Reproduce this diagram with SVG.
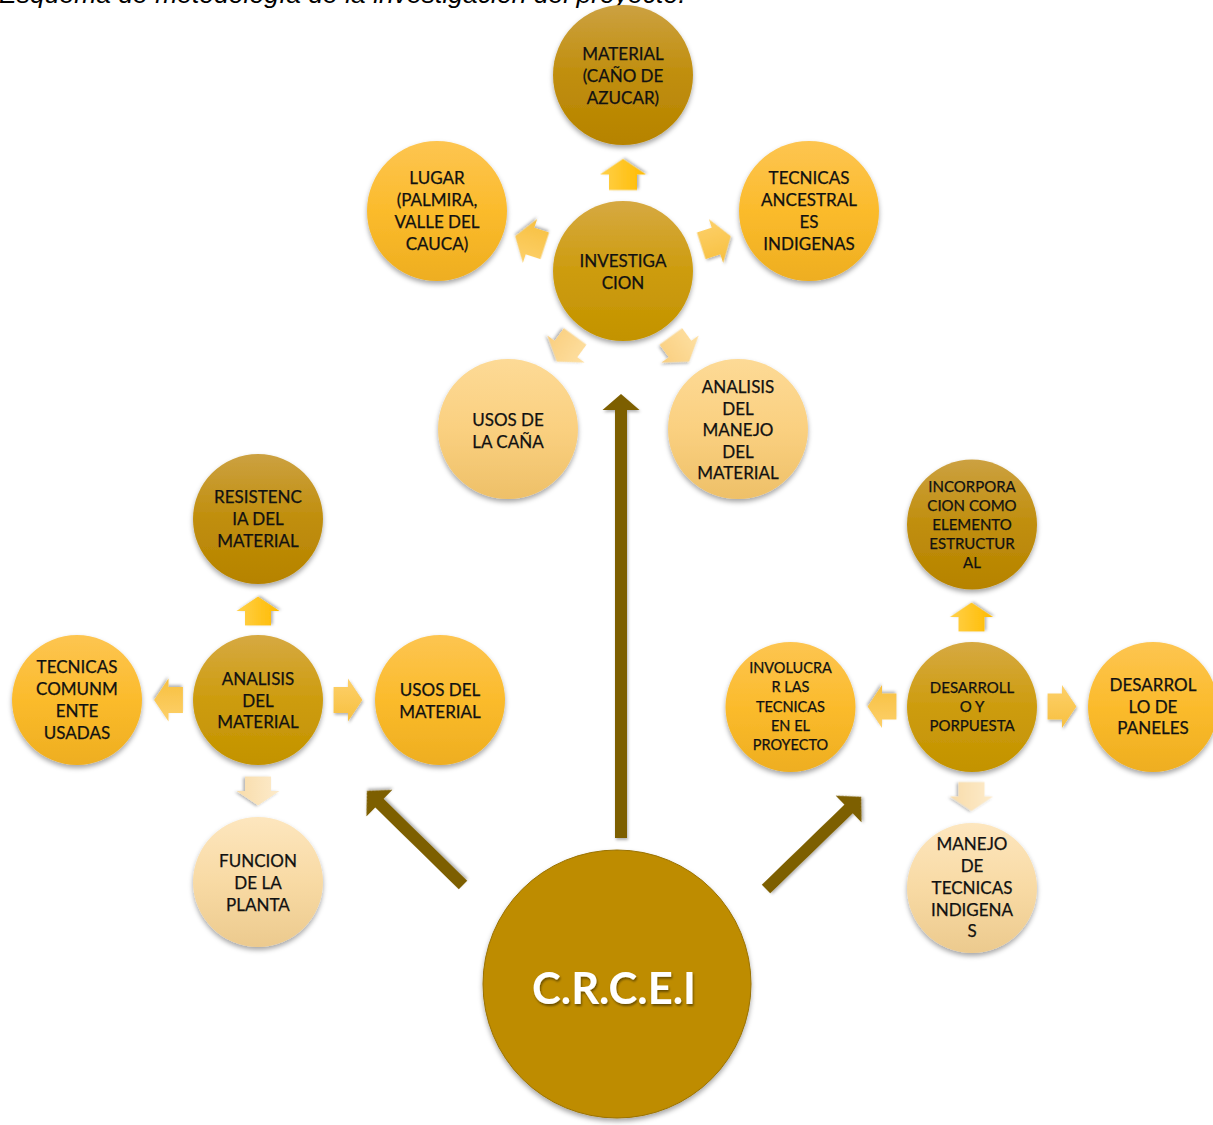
<svg xmlns="http://www.w3.org/2000/svg" xmlns:xlink="http://www.w3.org/1999/xlink" width="1213" height="1125" viewBox="0 0 1213 1125">
<style>
  .t{font-family:Lato,"Open Sans","Liberation Sans",sans-serif;font-size:17px;fill:#111;stroke:#111;stroke-width:0.25px;text-anchor:middle}
  .s15{font-size:15px}
  .s14{font-size:14.5px}
  .title{font-family:"Liberation Sans",Arial,sans-serif;font-style:italic;font-size:26.5px;fill:#000}
  .big{font-family:Lato,"Open Sans","Liberation Sans",sans-serif;font-weight:bold;font-size:43.5px;fill:#fff;text-anchor:middle}
  .dark{fill:url(#gDark)}
  .mid{fill:url(#gMid)}
  .yel{fill:url(#gYel)}
  .lt1{fill:url(#gLt1)}
  .lt2{fill:url(#gLt2)}
  .node{filter:url(#sh)}
  .bigarrow{fill:#7D5E00;filter:url(#sh2)}
</style>
<defs>
  <linearGradient id="gDark" x1="0" y1="0" x2="0" y2="1"><stop offset="0" stop-color="#CCA141"/><stop offset="0.5" stop-color="#C08E0C"/><stop offset="1" stop-color="#B68300"/></linearGradient>
  <linearGradient id="gMid" x1="0" y1="0" x2="0" y2="1"><stop offset="0" stop-color="#D6A942"/><stop offset="0.5" stop-color="#CD9C0E"/><stop offset="1" stop-color="#C39300"/></linearGradient>
  <linearGradient id="gYel" x1="0" y1="0" x2="0" y2="1"><stop offset="0" stop-color="#FDC551"/><stop offset="0.5" stop-color="#FBBB2C"/><stop offset="1" stop-color="#EEAE20"/></linearGradient>
  <linearGradient id="gLt1" x1="0" y1="0" x2="0" y2="1"><stop offset="0" stop-color="#FDDA96"/><stop offset="0.5" stop-color="#FAD080"/><stop offset="1" stop-color="#EEC068"/></linearGradient>
  <linearGradient id="gLt2" x1="0" y1="0" x2="0" y2="1"><stop offset="0" stop-color="#FDE6BE"/><stop offset="0.5" stop-color="#F8DAA4"/><stop offset="1" stop-color="#ECCA8E"/></linearGradient>
  <linearGradient id="aUp" x1="0" y1="0" x2="0" y2="1"><stop offset="0" stop-color="#FFD04A"/><stop offset="1" stop-color="#FFBB00"/></linearGradient>
  <linearGradient id="aSide" x1="0" y1="0" x2="0" y2="1"><stop offset="0" stop-color="#FDD06A"/><stop offset="1" stop-color="#F7C040"/></linearGradient>
  <linearGradient id="aLt1" x1="0" y1="0" x2="0" y2="1"><stop offset="0" stop-color="#FEE0A2"/><stop offset="1" stop-color="#F9CE7E"/></linearGradient>
  <linearGradient id="aLt2" x1="0" y1="0" x2="0" y2="1"><stop offset="0" stop-color="#FDEBCB"/><stop offset="1" stop-color="#F8DCAA"/></linearGradient>
  <filter id="sh" x="-20%" y="-20%" width="140%" height="150%"><feDropShadow dx="0" dy="3" stdDeviation="2.5" flood-color="#000" flood-opacity="0.35"/></filter>
  <filter id="sh2" x="-20%" y="-20%" width="140%" height="140%"><feDropShadow dx="1" dy="2" stdDeviation="1.5" flood-color="#000" flood-opacity="0.3"/></filter>
  <filter id="tsh" x="-10%" y="-20%" width="120%" height="150%"><feDropShadow dx="1" dy="2" stdDeviation="1.2" flood-color="#000" flood-opacity="0.45"/></filter>
  <path id="blk" d="M-15.5,-14 L0,-14 L0,-23 L15.5,0 L0,23 L0,14 L-15.5,14 Z"/>
</defs>

<text class="title" x="-1" y="3">Esquema de metodología de la investigación del proyecto.</text>

<g id="connectors">
  <polygon class="bigarrow" points="615,838 615,410 602.5,410 621,394 639.5,410 627,410 627,838"/>
  <path class="bigarrow" transform="translate(463,885) rotate(-135.6)" d="M0,-6 L117,-6 L117,-18.5 L134.5,0 L117,18.5 L117,6 L0,6 Z"/>
  <path class="bigarrow" transform="translate(766,889) rotate(-44.1)" d="M0,-6 L115,-6 L115,-18.5 L132.5,0 L115,18.5 L115,6 L0,6 Z"/>

  <use href="#blk" fill="url(#aUp)" filter="url(#sh2)" transform="translate(623,174.5) rotate(-90)"/>
  <use href="#blk" fill="url(#aSide)" filter="url(#sh2)" transform="translate(530,241) rotate(198)"/>
  <use href="#blk" fill="url(#aSide)" filter="url(#sh2)" transform="translate(716,241) rotate(-18)"/>
  <use href="#blk" fill="url(#aLt1)" filter="url(#sh2)" transform="translate(566,349) rotate(126)"/>
  <use href="#blk" fill="url(#aLt1)" filter="url(#sh2)" transform="translate(680,349) rotate(54)"/>

  <use href="#blk" fill="url(#aUp)" filter="url(#sh2)" transform="translate(258,611) rotate(-90) scale(0.93)"/>
  <use href="#blk" fill="url(#aSide)" filter="url(#sh2)" transform="translate(168.5,700) rotate(180) scale(0.93)"/>
  <use href="#blk" fill="url(#aSide)" filter="url(#sh2)" transform="translate(348,700) scale(0.93)"/>
  <use href="#blk" fill="url(#aLt2)" filter="url(#sh2)" transform="translate(258,791) rotate(90) scale(0.93)"/>

  <use href="#blk" fill="url(#aUp)" filter="url(#sh2)" transform="translate(971.5,617) rotate(-90) scale(0.93)"/>
  <use href="#blk" fill="url(#aSide)" filter="url(#sh2)" transform="translate(882,706.5) rotate(180) scale(0.93)"/>
  <use href="#blk" fill="url(#aSide)" filter="url(#sh2)" transform="translate(1062,706.5) scale(0.93)"/>
  <use href="#blk" fill="url(#aLt2)" filter="url(#sh2)" transform="translate(971.5,796.5) rotate(90) scale(0.93)"/>
</g>

<g id="material">
  <circle class="node dark" cx="623" cy="75" r="70"/>
  <text class="t" x="623" y="60">MATERIAL</text>
  <text class="t" x="623" y="82">(CAÑO DE</text>
  <text class="t" x="623" y="104">AZUCAR)</text>
</g>
<g id="lugar">
  <circle class="node yel" cx="437" cy="211" r="70"/>
  <text class="t" x="437" y="184">LUGAR</text>
  <text class="t" x="437" y="206">(PALMIRA,</text>
  <text class="t" x="437" y="228">VALLE DEL</text>
  <text class="t" x="437" y="250">CAUCA)</text>
</g>
<g id="tecnicas-ancestrales">
  <circle class="node yel" cx="809" cy="211" r="70"/>
  <text class="t" x="809" y="184">TECNICAS</text>
  <text class="t" x="809" y="206">ANCESTRAL</text>
  <text class="t" x="809" y="228">ES</text>
  <text class="t" x="809" y="250">INDIGENAS</text>
</g>
<g id="investigacion">
  <circle class="node mid" cx="623" cy="271" r="70"/>
  <text class="t" x="623" y="267">INVESTIGA</text>
  <text class="t" x="623" y="289">CION</text>
</g>
<g id="usos-cana">
  <circle class="node lt1" cx="508" cy="429" r="70"/>
  <text class="t" x="508" y="426">USOS DE</text>
  <text class="t" x="508" y="448">LA CAÑA</text>
</g>
<g id="analisis-manejo">
  <circle class="node lt1" cx="738" cy="429" r="70"/>
  <text class="t" x="738" y="393">ANALISIS</text>
  <text class="t" x="738" y="414.5">DEL</text>
  <text class="t" x="738" y="436">MANEJO</text>
  <text class="t" x="738" y="457.5">DEL</text>
  <text class="t" x="738" y="479">MATERIAL</text>
</g>

<g id="resistencia">
  <circle class="node dark" cx="258" cy="519" r="65"/>
  <text class="t" x="258" y="503">RESISTENC</text>
  <text class="t" x="258" y="525">IA DEL</text>
  <text class="t" x="258" y="547">MATERIAL</text>
</g>
<g id="analisis-material">
  <circle class="node mid" cx="258" cy="700" r="65"/>
  <text class="t" x="258" y="685">ANALISIS</text>
  <text class="t" x="258" y="707">DEL</text>
  <text class="t" x="258" y="728">MATERIAL</text>
</g>
<g id="tecnicas-comunmente">
  <circle class="node yel" cx="77" cy="700" r="65"/>
  <text class="t" x="77" y="673">TECNICAS</text>
  <text class="t" x="77" y="695">COMUNM</text>
  <text class="t" x="77" y="717">ENTE</text>
  <text class="t" x="77" y="739">USADAS</text>
</g>
<g id="usos-material">
  <circle class="node yel" cx="440" cy="700" r="65"/>
  <text class="t" x="440" y="696">USOS DEL</text>
  <text class="t" x="440" y="718">MATERIAL</text>
</g>
<g id="funcion-planta">
  <circle class="node lt2" cx="258" cy="882" r="65"/>
  <text class="t" x="258" y="867">FUNCION</text>
  <text class="t" x="258" y="889">DE LA</text>
  <text class="t" x="258" y="911">PLANTA</text>
</g>

<g id="incorporacion">
  <circle class="node dark" cx="972" cy="524.5" r="65"/>
  <text class="t s15" x="972" y="492">INCORPORA</text>
  <text class="t s15" x="972" y="511">CION COMO</text>
  <text class="t s15" x="972" y="530">ELEMENTO</text>
  <text class="t s15" x="972" y="549">ESTRUCTUR</text>
  <text class="t s15" x="972" y="568">AL</text>
</g>
<g id="desarrollo-propuesta">
  <circle class="node mid" cx="972" cy="707" r="65"/>
  <text class="t s15" x="972" y="693">DESARROLL</text>
  <text class="t s15" x="972" y="712">O Y</text>
  <text class="t s15" x="972" y="731">PORPUESTA</text>
</g>
<g id="involucrar">
  <circle class="node yel" cx="790.5" cy="707" r="65"/>
  <text class="t s14" x="790.5" y="673">INVOLUCRA</text>
  <text class="t s14" x="790.5" y="692">R LAS</text>
  <text class="t s14" x="790.5" y="711.5">TECNICAS</text>
  <text class="t s14" x="790.5" y="731">EN EL</text>
  <text class="t s14" x="790.5" y="750">PROYECTO</text>
</g>
<g id="desarrollo-paneles">
  <circle class="node yel" cx="1153" cy="707" r="65"/>
  <text class="t" x="1153" y="691">DESARROL</text>
  <text class="t" x="1153" y="713">LO DE</text>
  <text class="t" x="1153" y="734">PANELES</text>
</g>
<g id="manejo-tecnicas">
  <circle class="node lt2" cx="972" cy="888" r="65"/>
  <text class="t" x="972" y="850">MANEJO</text>
  <text class="t" x="972" y="872">DE</text>
  <text class="t" x="972" y="894">TECNICAS</text>
  <text class="t" x="972" y="916">INDIGENA</text>
  <text class="t" x="972" y="937">S</text>
</g>

<g id="crcei">
  <circle cx="617" cy="984" r="134" fill="#BE8C00" stroke="#9A7200" stroke-width="1" filter="url(#sh)"/>
  <text class="big" x="614" y="1004" filter="url(#tsh)">C.R.C.E.I</text>
</g>
</svg>
